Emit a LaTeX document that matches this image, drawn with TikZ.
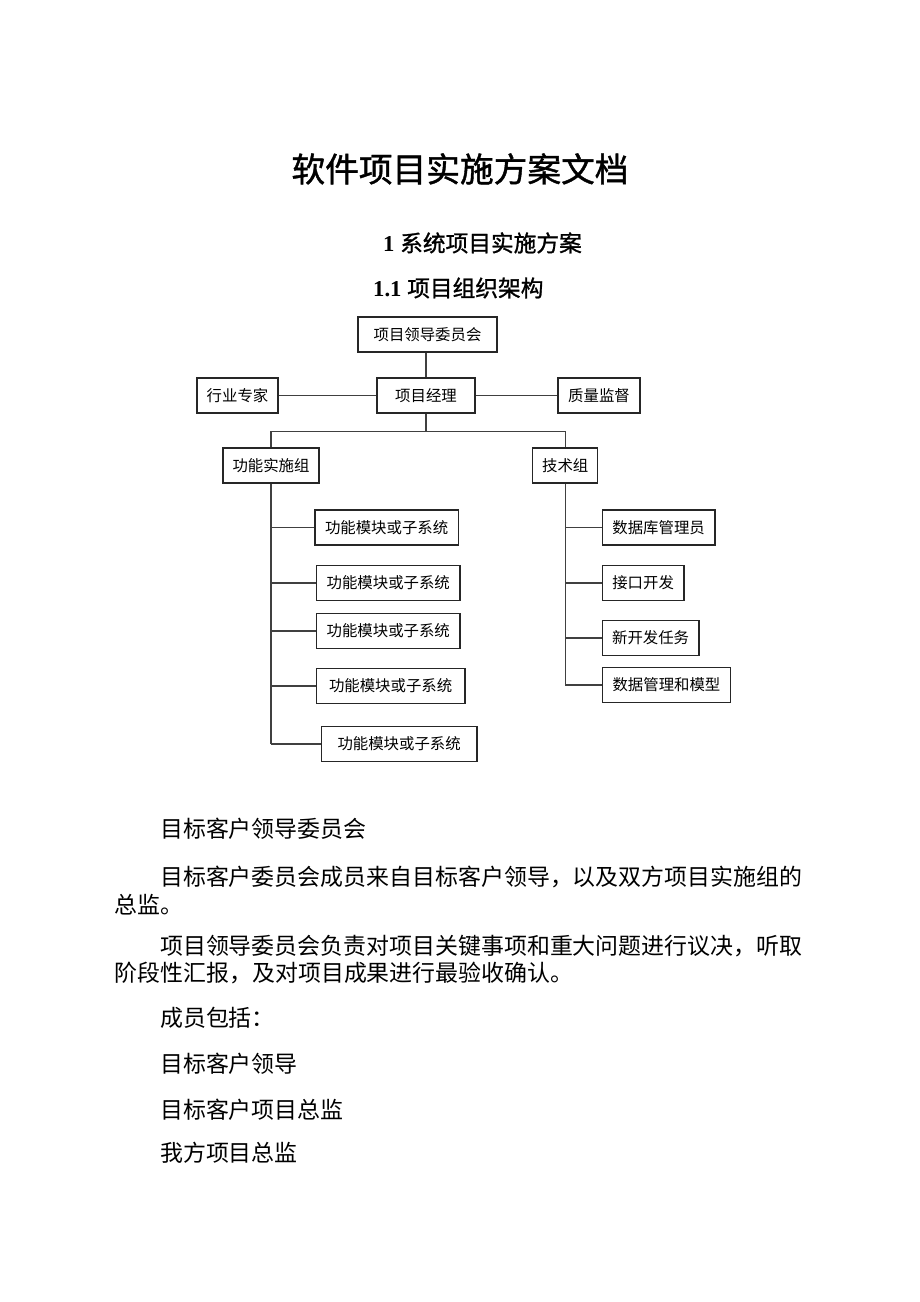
\documentclass[tikz,border=0pt]{standalone}
\usepackage{fontspec}
\setmainfont{Liberation Serif}
\newfontfamily\cjk{Noto Sans CJK SC}
\newfontfamily\cjkbf{Noto Sans CJK SC}[FakeBold=1.2]
\usetikzlibrary{positioning, calc}
\tikzset{
	unit/.style={draw=black!85, line width=1.2pt, font=\cjk\fontsize{15.4}{18}\selectfont, inner sep=0pt, minimum height=35pt},
	link/.style={draw=black!75, line width=1.2pt},
	para/.style={anchor=base west, inner sep=0pt, font=\cjk\fontsize{22.93}{27}\selectfont}
}

\begin{document}
\begin{tikzpicture}[
	x=1pt, y=-1pt,
	node distance = 18pt and 20pt,
	% Styles
	heading/.style = {anchor=base west, inner sep=0pt, font=\fontsize{22.7}{27}\selectfont},
	title/.style = {anchor=base, inner sep=0pt, font=\cjkbf\fontsize{33.7}{40}\selectfont}
	]
	\useasboundingbox (0,0) rectangle (920,1302);
	\fill[white] (0,0) rectangle (920,1302);
	
	% Headings
	\node[title] (title) at (460,181.8) {软件项目实施方案文档};
	\node[heading] (sec) at (383,251.6) {\bfseries 1 {\cjkbf\mdseries 系统项目实施方案}};
	\node[heading] (subsec) at (373,296.6) {\bfseries 1.1 {\cjkbf\mdseries 项目组织架构}};
	
	% Top rows: committee, manager and side roles
	\node[unit, minimum width=139pt] (lead) at (427.5,334.5) {项目领导委员会};
	\node[unit, minimum width=98pt] (pm) at (426,395.5) {项目经理};
	\node[unit, minimum width=81pt] (expert) at (237.5,395.5) {行业专家};
	\node[unit, minimum width=82pt] (qa) at (599,395.5) {质量监督};
	
	% Groups
	\node[unit, minimum width=96pt] (func) at (271,465.5) {功能实施组};
	\node[unit, minimum width=65pt] (tech) at (565.2,465.5) {技术组};
	
	% Left column: modules
	\foreach \n/\x/\w/\y in {1/314.3/143.4/527.5, 2/316/143.3/583, 3/316/143.3/631, 4/315.7/148.6/686, 5/320.7/155.6/744}
		\node[unit, anchor=west, minimum width=\w pt] (m\n) at (\x,\y) {功能模块或子系统};
	
	% Right column: technical tasks
	\foreach \n/\w/\y/\t in {1/112.6/527.5/数据库管理员, 2/81.6/583/接口开发, 3/96.6/638/新开发任务, 4/128.3/685/数据管理和模型}
		\node[unit, anchor=west, minimum width=\w pt] (d\n) at (601.7,\y) {\t};
	
	% Paths
	\draw[link] (pm.north) -- (pm.north |- lead.south);
	\draw[link] (expert) -- (pm);
	\draw[link] (pm) -- (qa);
	\coordinate[below=of pm.south] (split);
	\draw[link] (pm.south) -- (split);
	\draw[link] (func.north) |- (split) -| (tech.north);
	
	\draw[link] (func.south) -- (func.south |- m5.west);
	\foreach \n in {1,...,5}
		\draw[link] (func.south |- m\n.west) -- (m\n.west);
	
	\draw[link] (tech.south) -- (tech.south |- d4.west);
	\foreach \n in {1,...,4}
		\draw[link] (tech.south |- d\n.west) -- (d\n.west);
	
	% Body text
	\node[para] (p1) at (160,837.7) {目标客户领导委员会};
	\node[para] (p2) at (160,885.7) {目标客户委员会成员来自目标客户领导，以及双方项目实施组的};
	\node[para] (p3) at (114.5,913.7) {总监。};
	\node[para] (p4) at (160,954.7) {项目领导委员会负责对项目关键事项和重大问题进行议决，听取};
	\node[para] (p5) at (114.5,981.7) {阶段性汇报，及对项目成果进行最验收确认。};
	\node[para] (p6) at (160,1026.7) {成员包括：};
	\node[para] (p7) at (160,1072.7) {目标客户领导};
	\node[para] (p8) at (160,1118.7) {目标客户项目总监};
	\node[para] (p9) at (160,1161.7) {我方项目总监};
	
\end{tikzpicture}
\end{document}
